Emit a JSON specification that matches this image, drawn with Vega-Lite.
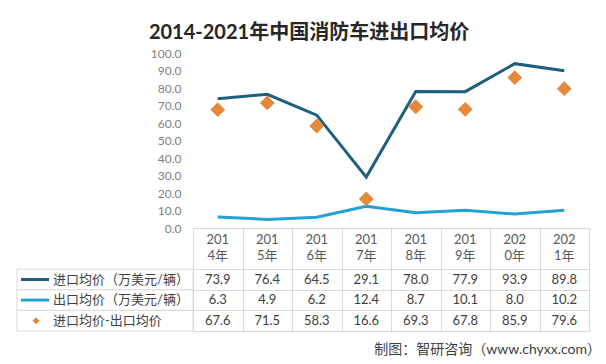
{
  "$schema": "https://vega.github.io/schema/vega-lite/v6.json",
  "padding": {"left": 16, "top": 23, "right": 6, "bottom": 2},
  "background": "white",
  "title": {"text": "2014-2021年中国消防车进出口均价", "font": "Lato, Noto Sans CJK SC", "fontSize": 20, "fontWeight": "bold", "color": "#262626", "anchor": "middle", "offset": 4},
  "config": {
    "font": "Lato, Noto Sans CJK SC",
    "view": {"stroke": null},
    "concat": {"spacing": 0},
    "axisY": {"labelOverlap": false}
  },
  "datasets": {
    "d": [
      {"cat": "2014年", "series": "进口均价（万美元/辆）", "value": 73.9},
      {"cat": "2015年", "series": "进口均价（万美元/辆）", "value": 76.4},
      {"cat": "2016年", "series": "进口均价（万美元/辆）", "value": 64.5},
      {"cat": "2017年", "series": "进口均价（万美元/辆）", "value": 29.1},
      {"cat": "2018年", "series": "进口均价（万美元/辆）", "value": 78.0},
      {"cat": "2019年", "series": "进口均价（万美元/辆）", "value": 77.9},
      {"cat": "2020年", "series": "进口均价（万美元/辆）", "value": 93.9},
      {"cat": "2021年", "series": "进口均价（万美元/辆）", "value": 89.8},
      {"cat": "2014年", "series": "出口均价（万美元/辆）", "value": 6.3},
      {"cat": "2015年", "series": "出口均价（万美元/辆）", "value": 4.9},
      {"cat": "2016年", "series": "出口均价（万美元/辆）", "value": 6.2},
      {"cat": "2017年", "series": "出口均价（万美元/辆）", "value": 12.4},
      {"cat": "2018年", "series": "出口均价（万美元/辆）", "value": 8.7},
      {"cat": "2019年", "series": "出口均价（万美元/辆）", "value": 10.1},
      {"cat": "2020年", "series": "出口均价（万美元/辆）", "value": 8.0},
      {"cat": "2021年", "series": "出口均价（万美元/辆）", "value": 10.2},
      {"cat": "2014年", "series": "进口均价-出口均价", "value": 67.6},
      {"cat": "2015年", "series": "进口均价-出口均价", "value": 71.5},
      {"cat": "2016年", "series": "进口均价-出口均价", "value": 58.3},
      {"cat": "2017年", "series": "进口均价-出口均价", "value": 16.6},
      {"cat": "2018年", "series": "进口均价-出口均价", "value": 69.3},
      {"cat": "2019年", "series": "进口均价-出口均价", "value": 67.8},
      {"cat": "2020年", "series": "进口均价-出口均价", "value": 85.9},
      {"cat": "2021年", "series": "进口均价-出口均价", "value": 79.6}
    ],
    "hdr": [
      {"cat": "2014年", "row": "h1", "label": "201\n4年"},
      {"cat": "2015年", "row": "h1", "label": "201\n5年"},
      {"cat": "2016年", "row": "h1", "label": "201\n6年"},
      {"cat": "2017年", "row": "h1", "label": "201\n7年"},
      {"cat": "2018年", "row": "h1", "label": "201\n8年"},
      {"cat": "2019年", "row": "h1", "label": "201\n9年"},
      {"cat": "2020年", "row": "h1", "label": "202\n0年"},
      {"cat": "2021年", "row": "h1", "label": "202\n1年"}
    ],
    "leg": [
      {"series": "进口均价（万美元/辆）", "kind": "line"},
      {"series": "出口均价（万美元/辆）", "kind": "line"},
      {"series": "进口均价-出口均价", "kind": "diamond"}
    ]
  },
  "columns": 2,
  "bounds": "flush",
  "spacing": 0,
  "resolve": {"scale": {"x": "independent", "y": "independent", "color": "independent"}},
  "concat": [
    {
      "width": 176, "height": 175,
      "data": {"values": [{"t": ""}]},
      "mark": {"type": "text"},
      "encoding": {"text": {"field": "t"}}
    },
    {
      "width": 396, "height": 175,
      "data": {"name": "d"},
      "encoding": {
        "x": {"field": "cat", "type": "nominal", "sort": null, "scale": {"paddingInner": 0, "paddingOuter": 0}, "axis": null},
        "y": {"field": "value", "type": "quantitative", "scale": {"domain": [0, 100], "nice": false},
              "axis": {"values": [0,10,20,30,40,50,60,70,80,90,100], "format": ".1f", "domain": false, "ticks": false, "grid": false, "labelOverlap": false, "labelColor": "#7f7f7f", "labelFontSize": 12, "labelPadding": 12, "title": null}}
      },
      "layer": [
        {
          "transform": [{"filter": "datum.series != '进口均价-出口均价'"}],
          "mark": {"type": "line", "strokeWidth": 3},
          "encoding": {
            "color": {"field": "series", "type": "nominal", "scale": {"domain": ["进口均价（万美元/辆）", "出口均价（万美元/辆）"], "range": ["#1d5f7c", "#22a1d3"]}, "legend": null}
          }
        },
        {
          "transform": [{"filter": "datum.series == '进口均价-出口均价'"}],
          "mark": {"type": "point", "shape": "diamond", "filled": true, "size": 220, "color": "#e5883a", "opacity": 1}
        }
      ]
    },
    {
      "width": 176, "height": 103,
      "data": {"name": "leg"},
      "layer": [
        {
          "mark": {"type": "rect", "fill": "white", "stroke": "#d9d9d9", "strokeWidth": 1},
          "encoding": {
            "y": {"field": "series", "type": "nominal", "scale": {"domain": ["h1", "h2", "进口均价（万美元/辆）", "出口均价（万美元/辆）", "进口均价-出口均价"], "paddingInner": 0, "paddingOuter": 0}, "axis": null}
          }
        },
        {
          "transform": [{"filter": "datum.kind == 'line'"}],
          "mark": {"type": "rule", "strokeWidth": 3, "x": 4, "x2": 32},
          "encoding": {
            "y": {"field": "series", "type": "nominal"},
            "color": {"field": "series", "type": "nominal", "scale": {"domain": ["进口均价（万美元/辆）", "出口均价（万美元/辆）"], "range": ["#1d5f7c", "#22a1d3"]}, "legend": null}
          }
        },
        {
          "transform": [{"filter": "datum.kind == 'diamond'"}],
          "mark": {"type": "point", "shape": "diamond", "filled": true, "size": 50, "color": "#e5883a", "opacity": 1, "x": 19},
          "encoding": {"y": {"field": "series", "type": "nominal"}}
        },
        {
          "mark": {"type": "text", "align": "left", "baseline": "middle", "x": 36, "fontSize": 13, "color": "#404040"},
          "encoding": {
            "y": {"field": "series", "type": "nominal"},
            "text": {"field": "series"}
          }
        }
      ]
    },
    {
      "width": 396, "height": 103,
      "view": {"stroke": "#d9d9d9"},
      "title": {"text": "制图：智研咨询（www.chyxx.com）", "orient": "bottom", "anchor": "end", "fontSize": 14, "fontWeight": "normal", "color": "#404040", "offset": 12, "dx": 12},
      "layer": [
        {
          "data": {"name": "d"},
          "mark": {"type": "text", "fontSize": 13, "color": "#404040"},
          "encoding": {
            "x": {"field": "cat", "type": "nominal", "sort": null, "scale": {"paddingInner": 0, "paddingOuter": 0},
                  "axis": {"orient": "top", "labels": false, "ticks": false, "domain": false, "grid": true, "gridColor": "#d9d9d9", "tickBand": "extent", "title": null}},
            "y": {"field": "series", "type": "nominal", "scale": {"domain": ["h1", "h2", "进口均价（万美元/辆）", "出口均价（万美元/辆）", "进口均价-出口均价"], "paddingInner": 0, "paddingOuter": 0},
                  "axis": {"values": ["进口均价（万美元/辆）", "出口均价（万美元/辆）", "进口均价-出口均价"], "labels": false, "ticks": false, "domain": false, "grid": true, "gridColor": "#d9d9d9", "tickBand": "extent", "title": null}},
            "text": {"field": "value", "type": "quantitative", "format": ".1f"}
          }
        },
        {
          "data": {"name": "hdr"},
          "mark": {"type": "text", "fontSize": 13, "color": "#595959", "lineBreak": "\n", "lineHeight": 16, "baseline": "middle", "dy": -9},
          "encoding": {
            "x": {"field": "cat", "type": "nominal", "sort": null},
            "y": {"field": "row", "type": "nominal", "bandPosition": 1},
            "text": {"field": "label"}
          }
        }
      ]
    }
  ]
}
